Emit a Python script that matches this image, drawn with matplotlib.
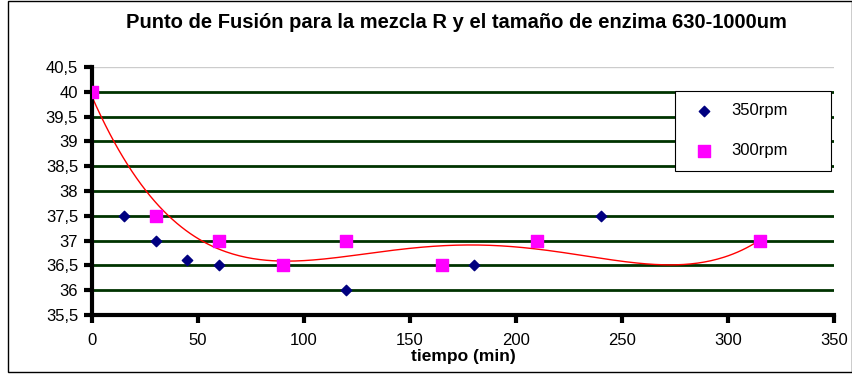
import numpy as np
import matplotlib.pyplot as plt
from matplotlib.ticker import FuncFormatter
from matplotlib.patches import Rectangle

# datos
t_350 = [0, 15, 30, 45, 60, 120, 180, 240]
pf_350 = [40, 37.5, 37, 36.6, 36.5, 36, 36.5, 37.5]

t_300 = [0, 30, 60, 90, 120, 165, 210, 315]
pf_300 = [40, 37.5, 37, 36.5, 37, 36.5, 37, 37]

titulo = "Punto de Fusión para la mezcla R y el tamaño de enzima 630-1000um"

plt.rcParams['font.family'] = ['Liberation Sans', 'DejaVu Sans']

fig = plt.figure(figsize=(8.53, 3.80), dpi=100)
fig.patches.append(Rectangle((0.009, 0.02), 0.99, 0.978, transform=fig.transFigure,
                             fill=False, edgecolor='black', linewidth=1))

ax = fig.add_axes([0.1079, 0.171, 0.8698, 0.6527])

# lineas de division
for v in np.arange(36, 40.01, 0.5):
	ax.axhline(v, color='#003300', linewidth=2, zorder=1)
ax.axhline(40.5, color='#cccccc', linewidth=1, zorder=1)

# linea de tendencia polinomica
coef = np.polyfit(t_300, pf_300, 4)
xs = np.linspace(0, 315, 300)
ax.plot(xs, np.polyval(coef, xs), color='red', linewidth=1, zorder=2)

ax.scatter(t_350, pf_350, marker='D', s=28, color='#000080', zorder=3, label='350rpm')
ax.scatter(t_300, pf_300, marker='s', s=64, color='#ff00ff', zorder=4, label='300rpm')

ax.set_xlim(0, 350)
ax.set_ylim(35.5, 40.5)
ax.set_xticks(range(0, 351, 50))
ax.set_yticks(np.arange(35.5, 40.51, 0.5))
ax.yaxis.set_major_formatter(FuncFormatter(lambda v, p: ('%g' % v).replace('.', ',')))

for s in ['top', 'right']:
	ax.spines[s].set_visible(False)
for s in ['left', 'bottom']:
	ax.spines[s].set_linewidth(3)
ax.tick_params(direction='out', length=6, width=3, labelsize=12)
ax.tick_params(axis='x', pad=7)
ax.tick_params(axis='y', pad=4)

ax.set_xlabel('tiempo (min)', fontsize=12.5, fontweight='bold', labelpad=1)
fig.text(0.535, 0.942, titulo, ha='center', va='center', fontsize=14.5, fontweight='bold')

leg = ax.legend(loc='upper left', bbox_to_anchor=(0.786, 0.0, 0.21, 0.903), mode='expand',
                borderaxespad=0, fontsize=12, frameon=True, fancybox=False, edgecolor='black',
                framealpha=1, borderpad=0.74, labelspacing=1.5, handletextpad=0.6)
leg.get_frame().set_linewidth(0.8)

fig.savefig('out.png', dpi=100)
